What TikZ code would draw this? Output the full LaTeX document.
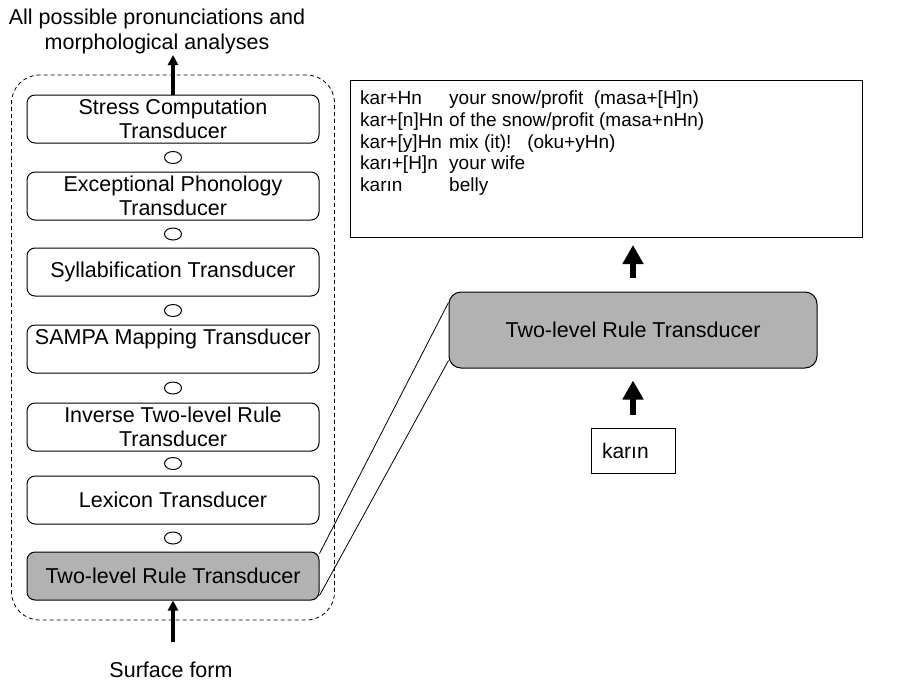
\documentclass[tikz,border=0pt]{standalone}
\usepackage{fontspec}
\setmainfont{Liberation Sans}
\usetikzlibrary{fit}
\usetikzlibrary{positioning}
\usetikzlibrary{matrix}
\usetikzlibrary{shapes.geometric}
\usetikzlibrary{arrows.meta}
\tikzset{stage/.style={
          draw, line width=1pt, rounded corners=8pt,
          minimum width=292pt, minimum height=48pt,
          inner xsep=3pt, inner ysep=1pt, align=center,
          font=\fontsize{21.5}{24}\selectfont
          },
        rulestage/.style={stage, fill=gray!60},
        junction/.style={draw, line width=1pt, ellipse, minimum width=17pt, minimum height=12pt, inner sep=0pt},
        thinflow/.style={line width=4pt, -{Triangle[width=10pt,length=10pt]}},
        thickflow/.style={line width=6pt, -{Triangle[width=20pt,length=19pt]}},
        caption/.style={align=center, font=\fontsize{21.5}{25}\selectfont},
        reading board/.style={
          matrix of nodes,
          row sep={21.75pt, between origins},
          nodes={anchor=base west, inner sep=0pt, font=\fontsize{19}{21.75}\selectfont},
          column 1/.style={nodes={text width=89pt, align=left}},
          },
}

\begin{document}
\begin{tikzpicture}[x=1pt, y=-1pt]
      \useasboundingbox (0,0) rectangle (906,681);
      % TRANSDUCER CASCADE
      \node[stage] (s1) at (173,119) {Stress Computation\\Transducer};
      \node[stage, below=28pt of s1] (s2) {Exceptional Phonology\\Transducer};
      \node[stage, below=27pt of s2] (s3) {Syllabification Transducer};
      \node[stage, below=28pt of s3] (s4) {SAMPA Mapping Transducer\\\mbox{}};
      \node[stage, below=29pt of s4] (s5) {Inverse Two-level Rule\\Transducer};
      \node[stage, below=24pt of s5] (s6) {Lexicon Transducer};
      \node[rulestage, below=27pt of s6] (s7) {Two-level Rule Transducer};
      \foreach \a/\b [count=\i] in {s1/s2, s2/s3, s3/s4, s4/s5, s5/s6, s6/s7}
        \path (\a.south) -- node[junction] (j\i) {} (\b.north);
      % dashed frame round the cascade
      \node[draw, line width=0.8pt, dash pattern=on 4pt off 3pt, rounded corners=28pt,
            fit=(s1)(s7), inner xsep=15pt, inner ysep=19.5pt] (cascade) {};

      % in and out
      \node[caption] (outputs) at (157,31) {All possible pronunciations and\\morphological analyses};
      \node[caption] (surface) at (171,670) {Surface form};
      \coordinate (outtip) at (173,55);
      \coordinate (surfacetail) at (173,642);
      \draw[thinflow] (s1.north) -- (outtip);
      \draw[thinflow] (surfacetail) -- (s7.south);

      % ZOOMED RULE TRANSDUCER
      \node[draw, line width=1pt, rounded corners=12pt, fill=gray!60,
            minimum width=368pt, minimum height=76pt,
            font=\fontsize{21.5}{24}\selectfont] (rule) at (633,330) {Two-level Rule Transducer};
      \node[draw, line width=1pt, text width=62pt, align=left, inner xsep=11pt,
            minimum height=45pt, font=\fontsize{21}{24}\selectfont] (word) at (633,450.5) {karın};
      \node[draw, line width=1pt, anchor=north west, minimum width=512pt, minimum height=157pt] (results) at (350,80) {};
      \matrix[reading board, matrix anchor=readings-1-1.base west] (readings) at (360,104.5) {
        kar+Hn    & your snow/profit\ \ (masa+[H]n) \\
        kar+[n]Hn & of the snow/profit (masa+nHn) \\
        kar+[y]Hn & mix (it)!\ \ \ (oku+yHn) \\
        karı+[H]n & your wife \\
        karın     & belly \\
      };
      \draw[thickflow, shorten <=13pt, shorten >=12pt] (word.north) -- (rule.south);
      \draw[thickflow, shorten <=14pt, shorten >=7pt] (rule.north) -- (rule.north |- results.south);

      % zoom lines
      \draw[line width=0.8pt] ([yshift=-2pt]s7.north east) -- ([yshift=-11pt]rule.north west);
      \draw[line width=0.8pt] ([yshift=5pt]s7.south east) -- ([yshift=8pt]rule.south west);
\end{tikzpicture}
\end{document}
